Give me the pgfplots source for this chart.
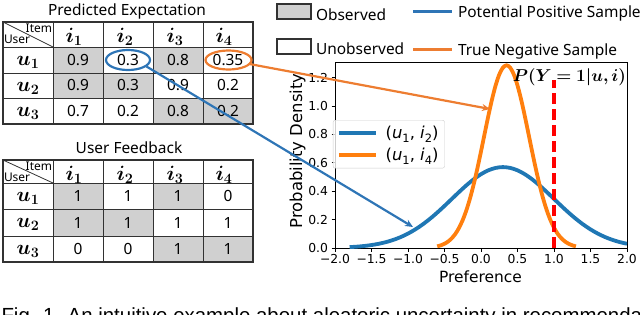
\documentclass[border=0pt]{standalone}
\usepackage{amsmath}
\usepackage{bm}
\usepackage{fontspec}
\usepackage{pgfplots}
\pgfplotsset{compat=1.18}
\usetikzlibrary{arrows.meta}
\setmainfont{Noto Sans}
\newfontfamily\dejavu{DejaVu Sans}
\newfontfamily\arialf{Liberation Sans}
\newcommand\fs[1]{\fontsize{#1}{#1}\selectfont}
\newcommand\sub[1]{\raisebox{-0.22em}{\fs{11.5}#1}}
\definecolor{cellgray}{RGB}{208,208,208}
\definecolor{linec}{RGB}{50,50,50}
\definecolor{offblue}{RGB}{46,117,182}
\definecolor{offorange}{RGB}{237,125,49}
\definecolor{mplblue}{HTML}{1F77B4}
\definecolor{mplorange}{HTML}{FF7F0E}

\pgfplotstableread{
x y
-1.8 0.0063
-1.7 0.0096
-1.6 0.0143
-1.5 0.0209
-1.4 0.0299
-1.3 0.0418
-1.2 0.0574
-1.1 0.0771
-1.0 0.1016
-0.9 0.1311
-0.8 0.1658
-0.7 0.2054
-0.6 0.2494
-0.5 0.2966
-0.4 0.3457
-0.3 0.3947
-0.2 0.4416
-0.1 0.4840
0.0 0.5199
0.1 0.5471
0.2 0.5641
0.3 0.5699
0.4 0.5641
0.5 0.5471
0.6 0.5199
0.7 0.4840
0.8 0.4416
0.9 0.3947
1.0 0.3457
1.1 0.2966
1.2 0.2494
1.3 0.2054
1.4 0.1658
1.5 0.1311
1.6 0.1016
1.7 0.0771
1.8 0.0574
1.9 0.0418
2.0 0.0299
}\bluedata

\pgfplotstableread{
x y
-0.60 0.0118
-0.55 0.0190
-0.50 0.0300
-0.45 0.0461
-0.40 0.0690
-0.35 0.1005
-0.30 0.1429
-0.25 0.1978
-0.20 0.2667
-0.15 0.3505
-0.10 0.4487
-0.05 0.5598
0.00 0.6804
0.05 0.8057
0.10 0.9296
0.15 1.0451
0.20 1.1447
0.25 1.2217
0.30 1.2703
0.35 1.2869
0.40 1.2703
0.45 1.2217
0.50 1.1447
0.55 1.0451
0.60 0.9296
0.65 0.8057
0.70 0.6804
0.75 0.5598
0.80 0.4487
0.85 0.3505
0.90 0.2667
0.95 0.1978
1.00 0.1429
1.05 0.1005
1.10 0.0690
1.15 0.0461
1.20 0.0300
1.25 0.0190
1.30 0.0118
}\orangedata

\pgfplotstableread{
x y
1.0 0.0
1.0 1.18
}\reddata

% table grid: #1..#5 row boundaries
\newcommand\tablegrid[5]{%
  \fill[cellgray] (53,#2) rectangle (103,#3);
  \fill[cellgray] (153,#2) rectangle (203,#3);
  \fill[cellgray] (53,#3) rectangle (103,#4);
  \fill[cellgray] (103,#3) rectangle (153,#4);
  \fill[cellgray] (153,#4) rectangle (203,#5);
  \fill[cellgray] (203,#4) rectangle (253,#5);
  \foreach \yy in {#2,#3,#4} \draw[linec, line width=0.9bp] (3,\yy) -- (253,\yy);
  \foreach \xx in {53,103,153,203} \draw[linec, line width=0.9bp] (\xx,#1) -- (\xx,#5);
  \draw[linec, line width=1.5bp] (3,#1) rectangle (253,#5);
  \draw[linec, line width=0.8bp] (3,#1) -- (53,#2);
  \node[t, anchor=base east, font=\fs{12}] at (52,#1+10.8) {Item};
  \node[t, anchor=base west, font=\fs{12}] at (4,#1+21.8) {User};
  \node[t, anchor=base] at (74,#1+20.5) {\fs{20}$\bm{i_1}$};
  \node[t, anchor=base] at (125,#1+20.5) {\fs{20}$\bm{i_2}$};
  \node[t, anchor=base] at (175,#1+20.5) {\fs{20}$\bm{i_3}$};
  \node[t, anchor=base] at (224,#1+20.5) {\fs{20}$\bm{i_4}$};
  \node[t, anchor=base] at (28,#2+18) {\fs{20}$\bm{u_1}$};
  \node[t, anchor=base] at (28,#3+18) {\fs{20}$\bm{u_2}$};
  \node[t, anchor=base] at (28,#4+18) {\fs{20}$\bm{u_3}$};
}

\begin{document}
\begin{tikzpicture}[x=1bp, y=-1bp, t/.style={inner sep=0pt, outer sep=0pt}]

% ---------- tables ----------
\node[t, anchor=base, font=\fs{15.5}] at (127,15.5) {Predicted Expectation};
\tablegrid{22}{47}{73}{98}{124}
\begin{scope}[every node/.style={t, font=\fs{15.5}}]
  \node at (78,60) {0.9};  \node at (128,60) {0.3};  \node at (178,60) {0.8};  \node at (228,60) {0.35};
  \node at (78,85.5) {0.9};\node at (128,85.5) {0.3};\node at (178,85.5) {0.9};\node at (228,85.5) {0.2};
  \node at (78,111) {0.7}; \node at (128,111) {0.2}; \node at (178,111) {0.8}; \node at (228,111) {0.2};
\end{scope}

\node[t, anchor=base, font=\fs{15.5}] at (129,153.5) {User Feedback};
\tablegrid{160}{183}{209}{236}{262}
\begin{scope}[every node/.style={t, font=\fs{15.5}}]
  \node at (78,196) {1}; \node at (128,196) {1}; \node at (178,196) {1}; \node at (228,196) {0};
  \node at (78,222.5) {1}; \node at (128,222.5) {1}; \node at (178,222.5) {1}; \node at (228,222.5) {1};
  \node at (78,249) {0}; \node at (128,249) {0}; \node at (178,249) {1}; \node at (228,249) {1};
\end{scope}

% ---------- top legend ----------
\draw[linec, line width=1.5bp, fill=cellgray] (277,4) rectangle (311,19);
\node[t, anchor=base west, font=\fs{15.5}] at (316,20) {Observed};
\draw[linec, line width=1.5bp, fill=white] (277,39) rectangle (311,54);
\node[t, anchor=base west, font=\fs{15.5}] at (316,54) {Unobserved};
\draw[offblue, line width=3bp] (413,11.7) -- (452,11.7);
\node[t, anchor=base west, font=\fs{15.5}] at (458,17) {Potential Positive Sample};
\draw[offorange, line width=3bp] (413,49) -- (452,49);
\node[t, anchor=base west, font=\fs{15.5}] at (458,55) {True Negative Sample};

% ---------- plot ----------
\begin{axis}[
  at={(335bp,-248bp)}, anchor=south west,
  scale only axis, width=292bp, height=186bp,
  xmin=-2, xmax=2, ymin=0, ymax=1.31,
  xtick={-2,-1.5,-1,-0.5,0,0.5,1,1.5,2},
  xticklabels={−2.0,−1.5,−1.0,−0.5,0.0,0.5,1.0,1.5,2.0},
  ytick={0,0.2,0.4,0.6,0.8,1.0,1.2},
  yticklabels={0.0,0.2,0.4,0.6,0.8,1.0,1.2},
  tick pos=left, tick align=outside, major tick length=3.5bp,
  every tick/.style={black, line width=0.8bp},
  axis line style={line width=0.8bp},
  ticklabel style={font=\dejavu\fs{12.4}},
  xticklabel style={yshift=1bp},
  legend style={at={(-0.007,0.688)}, anchor=north west,
    draw={rgb,255:red,204;green,204;blue,204}, rounded corners=2bp,
    fill=white, fill opacity=0.8, text opacity=1,
    font=\dejavu\fs{16.5}, inner xsep=4bp, inner ysep=4bp, row sep=4bp,
    /tikz/every odd column/.append style={column sep=6bp}},
  legend cell align=left,
  legend image code/.code={\draw[#1, line width=3.5bp] (0bp,0bp) -- (37bp,0bp);},
]
\addplot[mplblue, line width=3.8bp, smooth] table {\bluedata};
\addlegendentry{(\textit{u}\sub{1}, \textit{i}\sub{2})}
\addplot[mplorange, line width=3.8bp, smooth] table {\orangedata};
\addlegendentry{(\textit{u}\sub{1}, \textit{i}\sub{4})}
\addplot[red, line width=3.5bp, dash pattern=on 11bp off 5bp, forget plot] table {\reddata};
\end{axis}

\node[t, anchor=base east, font=\fs{16}] at (626,81) {$\bm{P(Y=1|u,i)}$};
\node[t, anchor=base, font=\dejavu\fs{15.5}] at (480.5,282) {Preference};
\node[t, anchor=base, rotate=90, font=\dejavu\fs{16.5}] at (302,151) {Probability Density};

% ---------- ellipses and arrows ----------
\draw[offblue, line width=2.2bp] (128,60) ellipse [x radius=22, y radius=10];
\draw[offorange, line width=2.2bp] (228.5,60) ellipse [x radius=23, y radius=9.5];
\draw[offblue, line width=2.2bp, -{Stealth[length=8bp, width=7bp]}] (146.5,66.5) -- (413,227);
\draw[offorange, line width=2.2bp, -{Stealth[length=8bp, width=7bp]}] (249.5,64) -- (490,109);

% ---------- caption (cut by the page edge, as in the reference) ----------
\node[t, anchor=base west, font=\arialf\fs{20.5}] at (1.5,322) {Fig. 1. An intuitive example about aleatoric uncertainty in recommendation};

\pgfresetboundingbox
\useasboundingbox (0,0) rectangle (640,314);
\end{tikzpicture}
\end{document}
